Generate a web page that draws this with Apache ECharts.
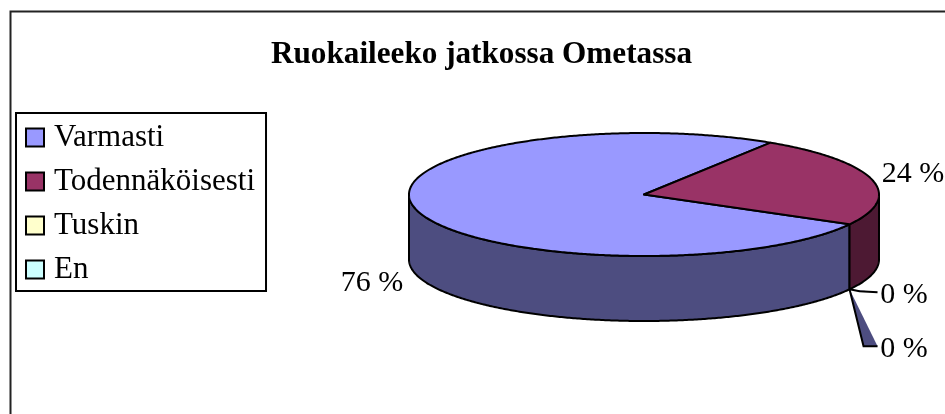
<!DOCTYPE html>
<html>
<head>
<meta charset="utf-8">
<title>Ruokaileeko jatkossa Ometassa</title>
<script src="https://cdn.jsdelivr.net/npm/echarts@6/dist/echarts.min.js"></script>
<style>
  html, body { margin: 0; padding: 0; background: #fff; overflow: hidden; }
  #chart { width: 945px; height: 414px; }
</style>
</head>
<body>
<div id="chart"></div>
<script>
// Survey answers, in percent
const categories = ['Varmasti', 'Todennäköisesti', 'Tuskin', 'En'];
const shares = [76, 24, 0, 0];
const chartTitle = 'Ruokaileeko jatkossa Ometassa';

// Face and wall colours per answer
const faceColors = ['#9999ff', '#993366', '#ffffcc', '#ccffff'];
const wallColors = ['#4d4d80', '#4d1933', '#80805f', '#5f8080'];
const leaderFill = '#4d4d80';

// Tilted disc geometry
const disc = { cx: 644, cy: 194.5, rx: 235, ry: 61.5, depth: 65, firstAngle: 29 };
const serif = '"Liberation Serif", "Times New Roman", serif';
const labelFont = '30px ' + serif;

// Label placement, one entry per answer
const labelPlaces = [
  { x: 372, y: 283, leader: null },
  { x: 913, y: 174, leader: null },
  { x: 904, y: 295, leader: [[0, 0], [10, 2], [28, 3]] },
  { x: 904, y: 349, leader: [[0, 0], [14, 57], [28, 57]] }
];

const total = shares.reduce((a, b) => a + b, 0);

function rimPoint(deg, drop) {
  const t = deg * Math.PI / 180;
  return [disc.cx + disc.rx * Math.cos(t), disc.cy + disc.ry * Math.sin(t) + drop];
}

function arcPoints(from, to, drop) {
  const pts = [];
  const steps = Math.max(1, Math.ceil(Math.abs(to - from) * 2));
  for (let i = 0; i <= steps; i++) {
    pts.push(rimPoint(from + (to - from) * i / steps, drop));
  }
  return pts;
}

// Part of the angular range [from, to] that faces the viewer (lower half of the rim)
function frontRanges(from, to) {
  const ranges = [];
  for (let k = 0; k < 2; k++) {
    const lo = Math.max(from, 360 * k);
    const hi = Math.min(to, 360 * k + 180);
    if (hi > lo) ranges.push([lo, hi]);
  }
  return ranges;
}

function sliceRenderer(index) {
  return function (params, api) {
    const value = api.value(0);
    const before = shares.slice(0, index).reduce((a, b) => a + b, 0);
    const from = disc.firstAngle + before / total * 360;
    const to = from + value / total * 360;
    const children = [];
    const outline = { stroke: '#000', lineWidth: 2, lineJoin: 'round' };

    frontRanges(from, to).forEach(([lo, hi]) => {
      const wall = arcPoints(lo, hi, 0).concat(arcPoints(hi, lo, disc.depth));
      children.push({
        type: 'polygon', shape: { points: wall },
        style: Object.assign({ fill: wallColors[index] }, outline)
      });
    });

    if (value > 0) {
      const face = [[disc.cx, disc.cy]].concat(arcPoints(from, to, 0));
      children.push({
        type: 'polygon', z2: 5, shape: { points: face },
        style: Object.assign({ fill: faceColors[index] }, outline)
      });
    }

    const place = labelPlaces[index];
    if (place.leader) {
      const foot = rimPoint(from, disc.depth);
      const line = place.leader.map(p => [foot[0] + p[0], foot[1] + p[1]]);
      children.push({
        type: 'polygon', z2: 6, shape: { points: line },
        style: { fill: leaderFill, stroke: null }
      });
      children.push({
        type: 'polyline', z2: 7, shape: { points: line },
        style: { fill: null, stroke: '#000', lineWidth: 2 }
      });
    }
    children.push({
      type: 'text', z2: 8,
      style: {
        text: value + ' %', x: place.x, y: place.y,
        align: 'center', verticalAlign: 'middle',
        font: labelFont, fill: '#000'
      }
    });
    return { type: 'group', children: children };
  };
}

const chart = echarts.init(document.getElementById('chart'), null, { renderer: 'canvas' });
chart.setOption({
  animation: false,
  backgroundColor: '#fff',
  title: {
    text: chartTitle, left: 476.5, top: 34, textAlign: 'center',
    textStyle: { fontFamily: serif, fontWeight: 'bold', fontSize: 31.2, color: '#000' }
  },
  legend: {
    orient: 'vertical', left: 16, top: 113, padding: [9, 11, 6, 9],
    data: categories, selectedMode: false, icon: 'rect',
    itemWidth: 18, itemHeight: 18, itemGap: 13,
    borderColor: '#000', borderWidth: 2,
    itemStyle: { borderColor: '#000', borderWidth: 2 },
    textStyle: { fontFamily: serif, fontSize: 31, color: '#000', padding: [3, 0, 0, 5] }
  },
  graphic: [{
    type: 'rect', silent: true,
    shape: { x: 10.5, y: 11.5, width: 1000, height: 1000 },
    style: { fill: null, stroke: '#222', lineWidth: 2 }
  }],
  series: categories.map((name, i) => ({
    type: 'custom', name: name, coordinateSystem: 'none', silent: true,
    itemStyle: { color: faceColors[i] },
    data: [[shares[i]]],
    renderItem: sliceRenderer(i)
  }))
});
</script>
</body>
</html>
